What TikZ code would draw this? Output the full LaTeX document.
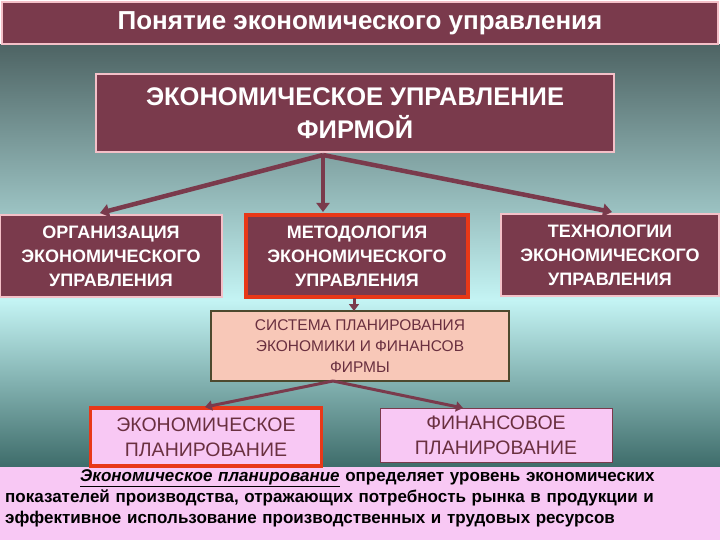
\documentclass[tikz,border=0pt]{standalone}
\usepackage{fontspec}
\setmainfont{Liberation Sans}
\usetikzlibrary{arrows.meta}
\definecolor{mar}{HTML}{7A3A4C}
\definecolor{pinkb}{HTML}{F4C0C8}
\definecolor{redb}{HTML}{E83818}
\definecolor{peach}{HTML}{F8C8B8}
\definecolor{lpink}{HTML}{F8C8F4}
\definecolor{dtxt}{HTML}{6A3040}
\definecolor{topc}{HTML}{4E6464}
\definecolor{midc}{HTML}{C4F4F4}
\definecolor{botc}{HTML}{3E6C6A}
\tikzset{
 darkbox/.style={draw=pinkb,line width=2.5pt,fill=mar,text=white,align=center,inner sep=0pt},
 lightbox/.style={fill=lpink,text=dtxt,align=center,inner sep=0pt,font=\fontsize{19.5}{25}\selectfont},
 arr/.style={draw=mar,line width=4.5pt,-{Triangle[length=9pt,width=13pt]}},
 arr2/.style={draw=mar,line width=3pt,-{Triangle[length=7pt,width=10pt]}}
}
\begin{document}
\begin{tikzpicture}[x=1pt,y=-1pt]
\useasboundingbox (0,0) rectangle (720,540);
\shade[top color=topc,bottom color=midc] (0,45) rectangle (720,300);
\shade[top color=midc,bottom color=botc] (0,300) rectangle (720,467);
\node[darkbox,minimum width=716pt,minimum height=42pt,font=\bfseries\fontsize{26}{28}\selectfont] (title) at (360,23) {Понятие экономического управления};
\node[darkbox,minimum width=518pt,minimum height=78pt,font=\bfseries\fontsize{25.5}{33}\selectfont] (main) at (355,113) {ЭКОНОМИЧЕСКОЕ УПРАВЛЕНИЕ\\ФИРМОЙ};
\node[darkbox,minimum width=222pt,minimum height=82pt,font=\bfseries\fontsize{18}{24}\selectfont,line width=2pt] (org) at (111,256) {ОРГАНИЗАЦИЯ\\ЭКОНОМИЧЕСКОГО\\УПРАВЛЕНИЯ};
\node[darkbox,draw=redb,line width=3.5pt,minimum width=222pt,minimum height=82pt,font=\bfseries\fontsize{18}{24}\selectfont] (met) at (357,256) {МЕТОДОЛОГИЯ\\ЭКОНОМИЧЕСКОГО\\УПРАВЛЕНИЯ};
\node[darkbox,minimum width=218pt,minimum height=82pt,font=\bfseries\fontsize{18}{24}\selectfont,line width=2pt] (tech) at (610,255) {ТЕХНОЛОГИИ\\ЭКОНОМИЧЕСКОГО\\УПРАВЛЕНИЯ};
\node[draw=black!60!olive,line width=1.5pt,fill=peach,text=dtxt,align=center,inner sep=0pt,minimum width=298pt,minimum height=70pt,font=\fontsize{15.5}{21}\selectfont] (sys) at (360,346) {СИСТЕМА ПЛАНИРОВАНИЯ\\ЭКОНОМИКИ И ФИНАНСОВ\\ФИРМЫ};
\fill[lpink] (0,467) rectangle (720,540);
\node[lightbox,draw=redb,line width=3.5pt,minimum width=231pt,minimum height=58pt] (ep) at (206,437) {ЭКОНОМИЧЕСКОЕ\\ПЛАНИРОВАНИЕ};
\node[lightbox,draw=mar,line width=1pt,minimum width=232pt,minimum height=54pt] (fp) at (496,435) {ФИНАНСОВОЕ\\ПЛАНИРОВАНИЕ};
\coordinate (m) at (323,155);
\draw[arr] (m) -- (100,213);
\draw[arr] (m) -- (323,212);
\draw[arr] (m) -- (612,212);
\draw[arr2] (354,298) -- (354,311);
\coordinate (s) at (333,381);
\draw[arr2] (s) -- (205,407);
\draw[arr2] (s) -- (463,408);
\node[anchor=north west,align=left,inner sep=0pt,font=\bfseries\fontsize{17}{21}\selectfont,text width=715pt] (txt) at (5,469) {\hspace*{75pt}\underline{\textit{Экономическое планирование}} определяет уровень экономических\\показателей производства, отражающих потребность рынка в продукции и\\эффективное использование производственных и трудовых ресурсов};
\end{tikzpicture}
\end{document}
